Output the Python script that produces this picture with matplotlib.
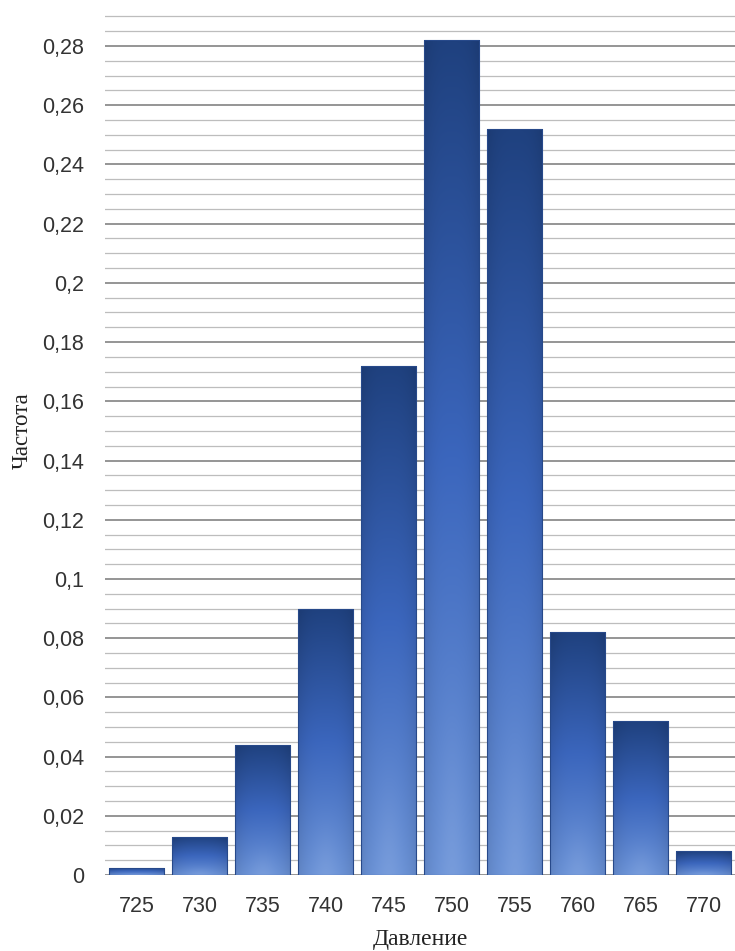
import numpy as np
import matplotlib
matplotlib.use("Agg")
import matplotlib.pyplot as plt
from matplotlib.ticker import MultipleLocator, FuncFormatter
from matplotlib.colors import to_rgb

# Pressure classes and relative frequencies
pressure = [725, 730, 735, 740, 745, 750, 755, 760, 765, 770]
frequency = [0.0025, 0.013, 0.044, 0.090, 0.172, 0.282, 0.252, 0.082, 0.052, 0.008]

x_label = "Давление"
y_label = "Частота"

top_color = np.array(to_rgb("#1f417f"))
mid_color = np.array(to_rgb("#3b66bd"))
bottom_color = np.array(to_rgb("#6b93d8"))


def bar_gradient(n_rows=200, n_cols=60):
    t = np.linspace(1.0, 0.0, n_rows)[:, None]          # 1 at top, 0 at bottom
    u = np.linspace(0.0, 1.0, n_cols)[None, :]
    # two-segment vertical ramp
    lower = bottom_color + (mid_color - bottom_color) * np.clip(t / 0.5, 0, 1)[..., None]
    upper = mid_color + (top_color - mid_color) * np.clip((t - 0.5) / 0.5, 0, 1)[..., None]
    img = np.where((t < 0.5)[..., None], lower, upper)
    img = np.broadcast_to(img, (n_rows, n_cols, 3)).copy()
    # slight darkening towards side edges
    side = 1.0 - 0.10 * (np.abs(u - 0.5) * 2) ** 3
    img *= side[..., None]
    # soft highlight near the bottom centre
    glow = 0.08 * np.exp(-((u - 0.5) ** 2 / 0.05 + t ** 2 / 0.03))
    img = img + (1 - img) * glow[..., None]
    return np.clip(img, 0, 1)


fig = plt.figure(figsize=(7.35, 9.51), dpi=100)
ax = fig.add_axes([105 / 735, 76 / 951, 1 - 105 / 735, (875 - 12) / 951])

xpos = np.arange(len(pressure))
bars = ax.bar(xpos, frequency, width=0.88, facecolor="none",
              edgecolor="#27498a", linewidth=0.8, zorder=3)

grad = bar_gradient()
for rect in bars:
    x0, y0 = rect.get_x(), rect.get_y()
    w, h = rect.get_width(), rect.get_height()
    im = ax.imshow(grad, extent=[x0, x0 + w, y0, y0 + h], aspect="auto",
                   origin="upper", zorder=2, interpolation="bilinear")
    im.set_clip_path(rect)

ax.set_xlim(-0.5, len(pressure) - 0.5)
ax.set_ylim(0, 0.2915)

ax.yaxis.set_major_locator(MultipleLocator(0.02))
ax.yaxis.set_minor_locator(MultipleLocator(0.005))
ax.yaxis.set_major_formatter(
    FuncFormatter(lambda v, p: ("%g" % round(v, 4)).replace(".", ",")))
ax.grid(True, which="major", axis="y", color="#8c8c8c", linewidth=1.3, zorder=0)
ax.grid(True, which="minor", axis="y", color="#bdbdbd", linewidth=0.9, zorder=0)
ax.set_axisbelow(True)

ax.set_xticks(xpos)
ax.set_xticklabels([str(p) for p in pressure])

for s in ax.spines.values():
    s.set_visible(False)

ax.tick_params(axis="both", which="both", length=0, colors="#333333",
               labelsize=15.5)
ax.tick_params(axis="y", pad=15)
ax.tick_params(axis="x", pad=15)
for lab in ax.get_xticklabels() + ax.get_yticklabels():
    lab.set_fontfamily("Liberation Sans")

fig.text(420 / 735, 1 - 940 / 951, x_label, ha="center", va="center",
         fontsize=17, family="Liberation Serif", color="#222222")
fig.text(22 / 735, 1 - 431 / 951, y_label, ha="center", va="center",
         rotation=90, fontsize=16.5, family="Liberation Serif", color="#222222")

fig.savefig("out.png", dpi=100, facecolor="white")
